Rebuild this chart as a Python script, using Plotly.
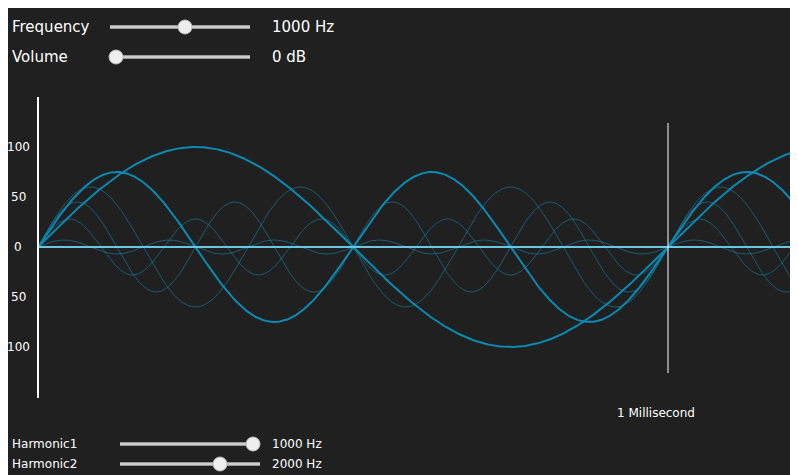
import numpy as np
import plotly.graph_objects as go

# harmonic number, amplitude
harmonics = [1, 2, 3, 4, 5, 6]
amplitudes = [100, 75, 60, 45, 28, 7]
widths = [2, 2, 1, 1, 1, 1]
tick_vals = [100, 50, 0, -50, -100]
tick_text = ["100", "50", "0", "50", "100"]

W, H = 798, 475
OFF = 8  # page body margin
X0, PX_PER_MS, Y0 = 38, 630, 247


def px(x):
    return (x - X0) / PX_PER_MS


def py(y):
    return Y0 - y


t = np.linspace(0, px(W), 1200)
fig = go.Figure()

# thin ones first so thick ones sit on top
for n, a, w in sorted(zip(harmonics, amplitudes, widths), key=lambda r: r[2]):
    color = "#0a8ab2" if w == 2 else "rgba(20,140,180,0.55)"
    fig.add_trace(go.Scatter(x=t, y=a * np.sin(2 * np.pi * n * t), mode="lines",
                             line=dict(color=color, width=w), hoverinfo="skip"))

fig.add_trace(go.Scatter(x=[0, px(W)], y=[0, 0], mode="lines",
                         line=dict(color="#6cc6e0", width=2), hoverinfo="skip"))

shapes = [
    dict(type="line", x0=0, x1=0, y0=py(97), y1=py(398), line=dict(color="white", width=2)),
    dict(type="line", x0=1, x1=1, y0=py(123), y1=py(373), line=dict(color="white", width=1)),
]
annotations = [dict(x=px(18), y=v, text=s, showarrow=False, xanchor="center",
                    font=dict(size=12, color="white")) for v, s in zip(tick_vals, tick_text)]
annotations.append(dict(x=px(656), y=py(413), text="1 Millisecond", showarrow=False,
                        font=dict(size=12, color="white")))

# sliders: label, track start, track end, knob position, value text, y, size, value x
sliders = [
    ("Frequency", 110, 250, 185, "1000 Hz", 27, 15, 270),
    ("Volume", 110, 250, 116, "0 dB", 57, 15, 270),
    ("Harmonic1", 120, 260, 253, "1000 Hz", 444, 12, 270),
    ("Harmonic2", 120, 260, 220, "2000 Hz", 464, 12, 270),
]
for label, a, b, k, val, y, fs, vx in sliders:
    annotations.append(dict(x=px(10), y=py(y), text=label, showarrow=False, xanchor="left",
                            font=dict(size=fs, color="white")))
    annotations.append(dict(x=px(vx), y=py(y), text=val, showarrow=False, xanchor="left",
                            font=dict(size=fs, color="white")))
    shapes.append(dict(type="line", x0=px(a), x1=px(b), y0=py(y), y1=py(y),
                       line=dict(color="#999999", width=4)))
    shapes.append(dict(type="line", x0=px(a), x1=px(b), y0=py(y), y1=py(y),
                       line=dict(color="#cccccc", width=2)))
    r = 7
    shapes.append(dict(type="circle", x0=px(k - r), x1=px(k + r), y0=py(y - r), y1=py(y + r),
                       fillcolor="#eeeeee", line=dict(color="#bbbbbb", width=1)))

fig.update_layout(
    width=W - OFF, height=H - OFF, autosize=False, margin=dict(l=0, r=0, t=0, b=0),
    paper_bgcolor="#202020", plot_bgcolor="#202020", showlegend=False,
    font=dict(family="DejaVu Sans"),
    xaxis=dict(range=[px(OFF), px(W)], visible=False, fixedrange=True),
    yaxis=dict(range=[py(H), py(OFF)], visible=False, fixedrange=True),
    shapes=shapes, annotations=annotations,
)
fig.write_html("out.html")
